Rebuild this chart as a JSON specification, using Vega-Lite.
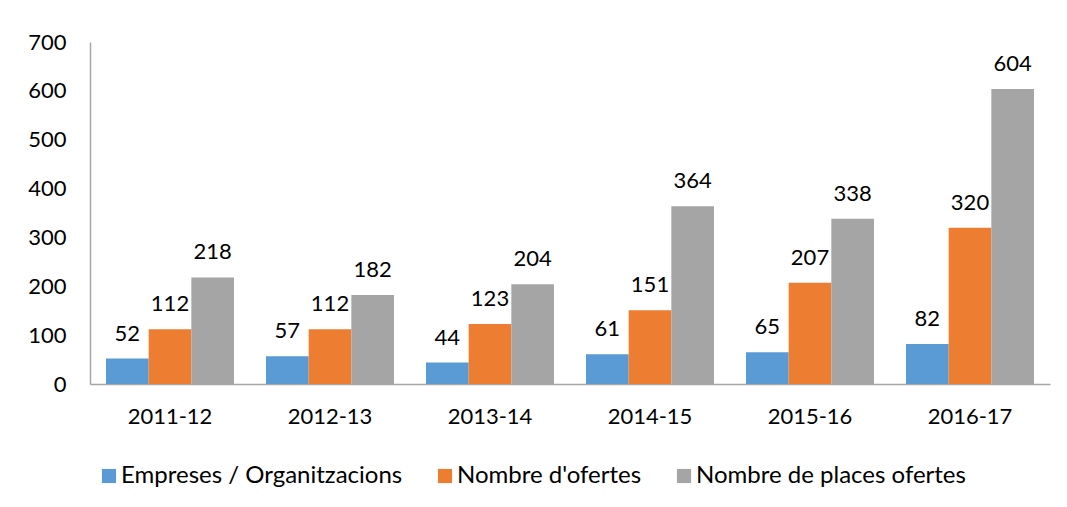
{
  "$schema": "https://vega.github.io/schema/vega-lite/v6.json",
  "autosize": {"type": "none"},
  "width": 960,
  "height": 342,
  "padding": {"left": 90, "top": 42, "right": 17, "bottom": 123},
  "background": "white",
  "config": {
    "font": "Lato",
    "view": {"stroke": null},
    "axis": {"labelFont": "Lato", "labelFontSize": 22, "labelColor": "#000000", "ticks": false, "grid": false, "domainColor": "#A6A6A6", "domainWidth": 1.5, "title": null},
    "legend": {"labelFont": "Lato", "labelFontSize": 24, "labelColor": "#000000", "labelLimit": 0}
  },
  "data": {
    "values": [
      {"curs": "2011-12", "serie": "Empreses / Organitzacions", "valor": 52},
      {"curs": "2011-12", "serie": "Nombre d'ofertes", "valor": 112},
      {"curs": "2011-12", "serie": "Nombre de places ofertes", "valor": 218},
      {"curs": "2012-13", "serie": "Empreses / Organitzacions", "valor": 57},
      {"curs": "2012-13", "serie": "Nombre d'ofertes", "valor": 112},
      {"curs": "2012-13", "serie": "Nombre de places ofertes", "valor": 182},
      {"curs": "2013-14", "serie": "Empreses / Organitzacions", "valor": 44},
      {"curs": "2013-14", "serie": "Nombre d'ofertes", "valor": 123},
      {"curs": "2013-14", "serie": "Nombre de places ofertes", "valor": 204},
      {"curs": "2014-15", "serie": "Empreses / Organitzacions", "valor": 61},
      {"curs": "2014-15", "serie": "Nombre d'ofertes", "valor": 151},
      {"curs": "2014-15", "serie": "Nombre de places ofertes", "valor": 364},
      {"curs": "2015-16", "serie": "Empreses / Organitzacions", "valor": 65},
      {"curs": "2015-16", "serie": "Nombre d'ofertes", "valor": 207},
      {"curs": "2015-16", "serie": "Nombre de places ofertes", "valor": 338},
      {"curs": "2016-17", "serie": "Empreses / Organitzacions", "valor": 82},
      {"curs": "2016-17", "serie": "Nombre d'ofertes", "valor": 320},
      {"curs": "2016-17", "serie": "Nombre de places ofertes", "valor": 604}
    ]
  },
  "encoding": {
    "x": {
      "field": "curs", "type": "nominal", "sort": null,
      "scale": {"paddingInner": 0.2, "paddingOuter": 0.1},
      "axis": {"labelAngle": 0, "labelPadding": 22, "orient": "bottom"}
    },
    "xOffset": {"field": "serie", "type": "nominal", "sort": null, "scale": {"paddingInner": 0, "paddingOuter": 0}},
    "y": {
      "field": "valor", "type": "quantitative",
      "scale": {"domain": [0, 700], "nice": false},
      "axis": {"values": [0, 100, 200, 300, 400, 500, 600, 700], "labelPadding": 24}
    }
  },
  "layer": [
    {
      "mark": {"type": "bar"},
      "encoding": {
        "color": {
          "field": "serie", "type": "nominal", "sort": null,
          "scale": {"domain": ["Empreses / Organitzacions", "Nombre d'ofertes", "Nombre de places ofertes"], "range": ["#5B9BD5", "#ED7D31", "#A5A5A5"]},
          "legend": {
            "title": null, "orient": "none", "direction": "horizontal",
            "legendX": 7, "legendY": 422,
            "symbolType": "square", "symbolSize": 200, "symbolStrokeWidth": 0,
            "labelOffset": 0, "columnPadding": 30
          }
        }
      }
    },
    {
      "mark": {"type": "text", "baseline": "alphabetic", "dy": -18, "fontSize": 22, "color": "#000000", "font": "Lato"},
      "encoding": {"text": {"field": "valor", "type": "quantitative"}}
    }
  ]
}
